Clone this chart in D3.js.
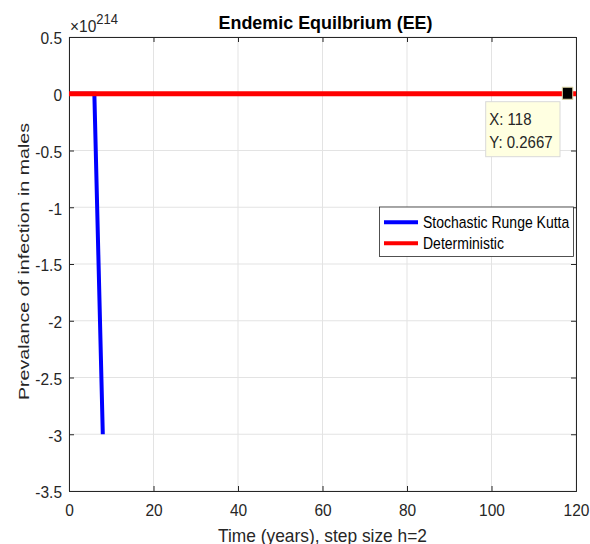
<!DOCTYPE html>
<html><head><meta charset="utf-8">
<script src="https://cdn.jsdelivr.net/npm/d3@7"></script>
<style>body{margin:0;background:#fff}svg{display:block}text{font-family:"Liberation Sans",Arial,sans-serif}</style>
</head><body><svg id="c" width="590" height="544"></svg>
<script>
const xTicks = [0,20,40,60,80,100,120];
const yTicks = [0.5,0,-0.5,-1,-1.5,-2,-2.5,-3,-3.5];
const srkTime = [0,2,4,6,8];
const srkValue = [0,0,0,0,-3];          // ×10^214
const detTime = [0,120];
const detValue = [2.667e-215,2.667e-215]; // 0.2667 in units of 10^214
const tipX = 118, tipY = 0.2667;
const seriesNames = ["Stochastic Runge Kutta","Deterministic"];
const seriesColors = ["#0000ff","#ff0000"];

const svg = d3.select("#c");
const L=69, R=576, T=37, B=491;
const x = d3.scaleLinear().domain([0,120]).range([L,R]);
const y = d3.scaleLinear().domain([-3.5,0.5]).range([B,T]);
const ax = "#262626";
const SY = 1.1;

function txt(parent, px, py, str, size, opts={}) {
  const t = parent.append("text")
    .attr("transform", `translate(${px},${py})` + (opts.rot ? ` rotate(${opts.rot})` : "") + ` scale(${opts.sx||1},${opts.sy||1})`)
    .attr("font-size", size).attr("fill", opts.fill || ax)
    .attr("text-anchor", opts.anchor || "start")
    .attr("font-weight", opts.bold ? "bold" : "normal")
    .text(str);
  if (opts.len) t.attr("textLength", opts.len).attr("lengthAdjust","spacingAndGlyphs");
  return t;
}

// grid
const g = svg.append("g");
g.selectAll(".gx").data(xTicks).join("line").attr("x1",d=>x(d)).attr("x2",d=>x(d)).attr("y1",T).attr("y2",B).attr("stroke","#e3e3e3").attr("stroke-width",1);
g.selectAll(".gy").data(yTicks).join("line").attr("y1",d=>y(d)).attr("y2",d=>y(d)).attr("x1",L).attr("x2",R).attr("stroke","#e3e3e3").attr("stroke-width",1);

// axes
const xb = svg.append("g").attr("transform",`translate(0,${B})`).call(d3.axisBottom(x).tickValues(xTicks).tickSize(-5).tickPadding(13).tickFormat(d=>String(d)));
const xt = svg.append("g").attr("transform",`translate(0,${T})`).call(d3.axisTop(x).tickValues(xTicks).tickSize(-5).tickFormat(""));
const yl = svg.append("g").attr("transform",`translate(${L},0)`).call(d3.axisLeft(y).tickValues(yTicks).tickSize(-5).tickPadding(7).tickFormat(d=>String(d)));
const yr = svg.append("g").attr("transform",`translate(${R},0)`).call(d3.axisRight(y).tickValues(yTicks).tickSize(-5).tickFormat(""));
[xb,xt,yl,yr].forEach(a=>{
  a.select(".domain").attr("stroke",ax).attr("stroke-width",1);
  a.selectAll(".tick line").attr("stroke",ax);
  a.selectAll("text").attr("fill",ax).attr("font-size",15.5).attr("font-family","Liberation Sans, Arial, sans-serif");
});
yl.selectAll("text").attr("dy","0.4em").attr("transform",`scale(1,${SY})`);
xb.selectAll("text").attr("y",0).attr("dy",0).attr("transform",`translate(0,24.5) scale(1,${SY})`);

// lines
const line = d3.line().x(d=>x(d[0])).y(d=>y(d[1]));
svg.append("path").datum(srkTime.map((t,i)=>[t,srkValue[i]])).attr("d",line).attr("fill","none").attr("stroke",seriesColors[0]).attr("stroke-width",4);
svg.append("path").datum(detTime.map((t,i)=>[t,detValue[i]])).attr("d",line).attr("fill","none").attr("stroke",seriesColors[1]).attr("stroke-width",5);

// data tip marker
svg.append("rect").attr("x",x(tipX)-5.2).attr("y",y(tipY*1e-214)-6.5).attr("width",10.4).attr("height",12).attr("fill","#000").attr("stroke","#d8d0a0").attr("stroke-width",1);
const tip = svg.append("g");
tip.append("rect").attr("x",485.7).attr("y",101.7).attr("width",74.3).attr("height",55).attr("fill","#ffffe1").attr("stroke","#d9d9d9");
txt(tip, 489.3, 125, "X: "+tipX, 15, {sy:SY});
txt(tip, 489.3, 147.7, "Y: "+tipY, 15, {sy:SY});

// legend
const lg = svg.append("g");
lg.append("rect").attr("x",379.5).attr("y",207).attr("width",194).attr("height",49.5).attr("fill","#fff").attr("stroke","#262626").attr("stroke-width",0.8);
seriesNames.forEach((n,i)=>{
  const yy = 222.3+i*21;
  lg.append("line").attr("x1",384).attr("x2",418).attr("y1",yy).attr("y2",yy).attr("stroke",seriesColors[i]).attr("stroke-width",4);
  txt(lg, 423, yy+6, n, 14, {sy:1.12, fill:"#000"});
});

// texts
txt(svg, 325.5, 29, "Endemic Equilbrium (EE)", 19, {bold:true, anchor:"middle", fill:"#000", len:214});
const ex = txt(svg, 70, 32, "", 15.5, {sy:SY});
ex.append("tspan").text("×10");
ex.append("tspan").attr("dy",-7).attr("font-size",13).text("214");
txt(svg, 322.5, 541.5, "Time (years), step size h=2", 18.5, {anchor:"middle", len:209});
txt(svg, 29, 261.5, "Prevalance of infection in males", 15.5, {anchor:"middle", rot:-90, len:277});
</script></body></html>
